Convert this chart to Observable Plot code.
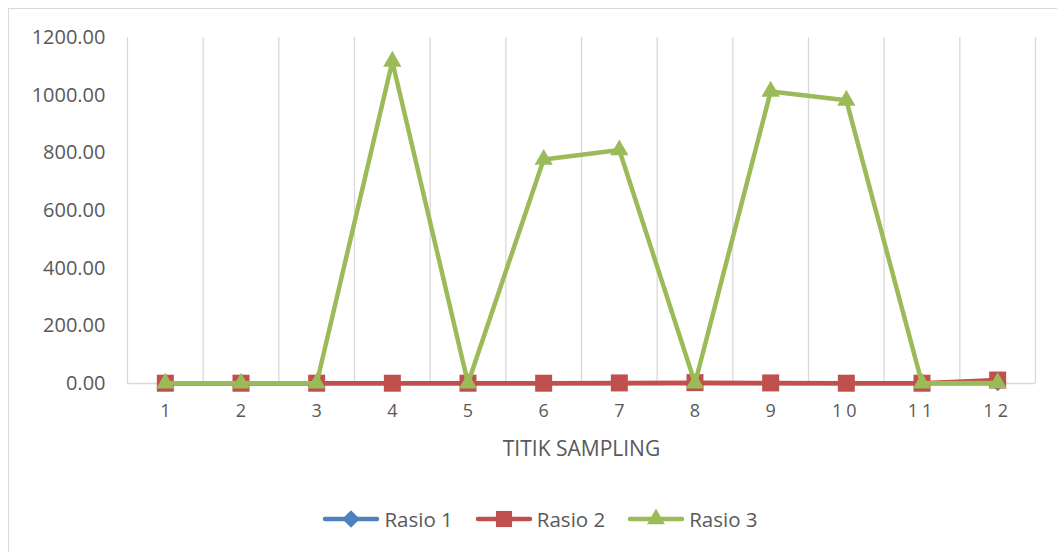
<!DOCTYPE html>
<html>
<head>
<meta charset="utf-8">
<script src="https://cdn.jsdelivr.net/npm/d3@7"></script>
<script src="https://cdn.jsdelivr.net/npm/@observablehq/plot@0.6"></script>
<style>
  html, body { margin: 0; padding: 0; background: #fff; overflow: hidden; }
  #wrap { position: relative; width: 1057px; height: 552px; overflow: hidden; font-family: "Open Sans", sans-serif; color: #595959; }
  #frame { position: absolute; left: 8px; top: 8px; width: 1070px; height: 570px; border: 1px solid #d9d9d9; box-sizing: border-box; }
  #chart { position: absolute; left: 0; top: 0; }
  #legend { position: absolute; left: 8px; width: 1064px; top: 505px; height: 28px; display: flex; justify-content: center; align-items: center; font-size: 20.5px; color: #595959; }
  .item { display: flex; align-items: center; margin: 0 11px; }
  .item svg { margin-right: 4px; }
  svg [aria-label="y-axis tick label"] text { font-size: 20px; }
  svg [aria-label="x-axis tick label"] text { font-size: 18px; }
  svg [aria-label="x-axis label"] text { font-size: 21px; }
</style>
</head>
<body>
<div id="wrap">
  <div id="frame"></div>
  <div id="chart"></div>
  <div id="legend"></div>
</div>
<script>
const categories = [1, 2, 3, 4, 5, 6, 7, 8, 9, 10, 11, 12];
const rasio1 = [0.5, 0.5, 0.5, 0.5, 0.5, 0.5, 0.5, 0.5, 0.5, 0.5, 0.5, 0.5];
const rasio2 = [1, 1, 1, 1, 1, 1, 2, 3, 2, 1, 1, 12];
const rasio3 = [1, 1, 1, 1117, 1, 777, 810, 1, 1013, 982, 1, 2];
const seriesNames = ["Rasio 1", "Rasio 2", "Rasio 3"];
const seriesColors = ["#4F81BD", "#C0504D", "#9BBB59"];
const seriesSymbols = ["diamond2", "square", "triangle"];
const yTicks = [0, 200, 400, 600, 800, 1000, 1200];

const allSeries = [rasio1, rasio2, rasio3];
const data = allSeries.map((vals, s) => categories.map((c, i) => ({x: c, y: vals[i], series: seriesNames[s]})));
const bounds = d3.range(categories.length + 1).map(i => i + 0.5);

const marks = [
  Plot.gridX(bounds, {stroke: "#d9d9d9", strokeOpacity: 1, strokeWidth: 1.3}),
  Plot.ruleY([0], {stroke: "#d9d9d9", strokeWidth: 1.3}),
  Plot.axisY({ticks: yTicks, tickSize: 0, tickPadding: 22, tickFormat: d3.format(".2f"), label: null, fill: "#595959"}),
  Plot.axisX({ticks: categories, tickSize: 0, tickPadding: 21, tickFormat: d => String(d), label: "TITIK SAMPLING", labelArrow: "none", labelAnchor: "center", labelOffset: 72, fill: "#595959"})
];
const rs = [7.2, 9.6, 6.8];
data.forEach((d, s) => {
  marks.push(Plot.line(d, {x: "x", y: "y", stroke: seriesColors[s], strokeWidth: 4.5, strokeLinejoin: "round", strokeLinecap: "round"}));
  marks.push(Plot.dot(d, {x: "x", y: "y", symbol: seriesSymbols[s], fill: seriesColors[s], stroke: "none", r: rs[s]}));
});

const chart = Plot.plot({
  width: 1057,
  height: 480,
  marginLeft: 127,
  marginRight: 22,
  marginTop: 37,
  marginBottom: 97,
  style: {fontFamily: "Open Sans, sans-serif", color: "#595959", background: "transparent"},
  x: {type: "linear", domain: [0.5, categories.length + 0.5], axis: null},
  y: {domain: [0, 1200], axis: null},
  marks
});
document.getElementById("chart").appendChild(chart);

// Excel-like wider spacing on two-digit category labels
d3.select(chart).selectAll('[aria-label="x-axis tick label"] text')
  .filter(function() { return this.textContent.length > 1; })
  .attr("letter-spacing", "4px");

// Legend
const legend = d3.select("#legend");
seriesNames.forEach((name, s) => {
  const item = legend.append("div").attr("class", "item");
  const sv = item.append("svg").attr("width", 58).attr("height", 24);
  sv.append("line").attr("x1", 3).attr("x2", 55).attr("y1", 12).attr("y2", 12)
    .attr("stroke", seriesColors[s]).attr("stroke-width", 4.5).attr("stroke-linecap", "round");
  sv.append("path").attr("transform", "translate(29,12)")
    .attr("d", d3.symbol(s === 0 ? d3.symbolDiamond2 : s === 1 ? d3.symbolSquare : d3.symbolTriangle, s === 0 ? 200 : s === 1 ? 260 : 140)())
    .attr("fill", seriesColors[s]);
  item.append("span").text(name);
});
</script>
</body>
</html>
